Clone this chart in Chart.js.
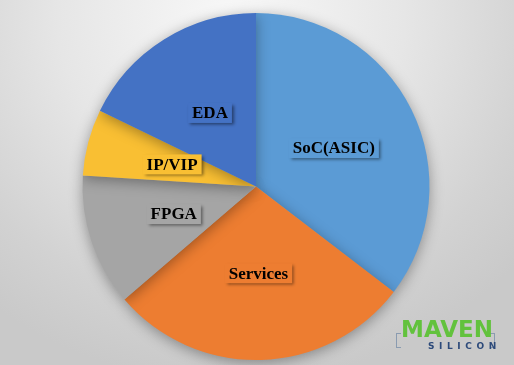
<!DOCTYPE html>
<html>
<head>
<meta charset="utf-8">
<script src="https://cdn.jsdelivr.net/npm/chart.js@4"></script>
<style>
  html, body { margin: 0; padding: 0; }
  body {
    width: 514px; height: 365px; overflow: hidden; position: relative;
    background: radial-gradient(ellipse 75% 100% at 45% 5%, #f8f8f8 0%, #e6e6e6 45%, #d2d2d2 80%, #c9c9c9 100%);
  }
  #wrap { position: absolute; left: 0; top: 0; width: 514px; height: 365px; }
  .logo { position: absolute; left: 396px; top: 318px; width: 100px; height: 34px; }
  .logo .bl, .logo .br {
    position: absolute; top: 15px; width: 4px; height: 13px;
    border: 1px solid #8a9bb0;
  }
  .logo .bl { left: 0; border-right: none; }
  .logo .br { left: 94px; border-left: none; }
  .logo .maven {
    position: absolute; left: 5px; top: 0px; width: 90px; text-align: center;
    font: bold 23px/23px "DejaVu Sans", sans-serif; color: #62c23d;
  }
  .logo .sil {
    position: absolute; left: 32px; top: 23px;
    font: bold 9px "DejaVu Sans", sans-serif; color: #2d4a7a; letter-spacing: 4.6px;
  }
</style>
</head>
<body>
<div id="wrap"><canvas id="chartPie" width="514" height="365"></canvas></div>
<div class="logo">
  <div class="bl"></div>
  <div class="br"></div>
  <div class="maven">MAVEN</div>
  <div class="sil">SILICON</div>
</div>
<script>
const labels = ['SoC(ASIC)', 'Services', 'FPGA', 'IP/VIP', 'EDA'];
const shares = [35.4, 28.3, 12.3, 6.2, 17.8];
const colors = ['#5b9bd5', '#ed7d31', '#a5a5a5', '#f9bf33', '#4472c4'];

const ctxPie = document.getElementById('chartPie');

// shadow round the whole pie
const pieShadow = {
    id: 'pieShadow',
    beforeDatasetsDraw(chart) {
        const c = chart.ctx;
        c.save();
        c.shadowColor = 'rgba(0,0,0,0.35)';
        c.shadowBlur = 14;
        c.shadowOffsetX = 0;
        c.shadowOffsetY = 3;
    },
    afterDatasetsDraw(chart) {
        chart.ctx.restore();
    }
};

// label boxes in the middle of each slice
const sliceLabels = {
    id: 'sliceLabels',
    afterDraw(chart) {
        const c = chart.ctx;
        const meta = chart.getDatasetMeta(0);
        c.save();
        c.font = 'bold 17px "Liberation Serif", "Times New Roman", serif';
        c.textAlign = 'center';
        c.textBaseline = 'middle';
        meta.data.forEach((arc, i) => {
            const p = arc.getCenterPoint();
            const w = c.measureText(labels[i]).width + 8;
            const h = 20;
            c.shadowColor = 'rgba(0,0,0,0.45)';
            c.shadowBlur = 3;
            c.shadowOffsetX = 2;
            c.shadowOffsetY = 2;
            c.fillStyle = colors[i];
            c.fillRect(p.x - w / 2, p.y - h / 2, w, h);
            c.shadowColor = 'transparent';
            c.fillStyle = '#000';
            c.fillText(labels[i], p.x, p.y + 1);
        });
        c.restore();
    }
};

new Chart(ctxPie, {
    type: 'pie',
    data: {
        labels: labels,
        datasets: [{
            data: shares,
            backgroundColor: colors,
            borderWidth: 0
        }]
    },
    options: {
        responsive: false,
        animation: false,
        layout: {
            padding: { top: 13, bottom: 5, left: 0, right: 2 }
        },
        plugins: {
            legend: { display: false },
            tooltip: { enabled: false }
        }
    },
    plugins: [pieShadow, sliceLabels]
});
</script>
</body>
</html>
